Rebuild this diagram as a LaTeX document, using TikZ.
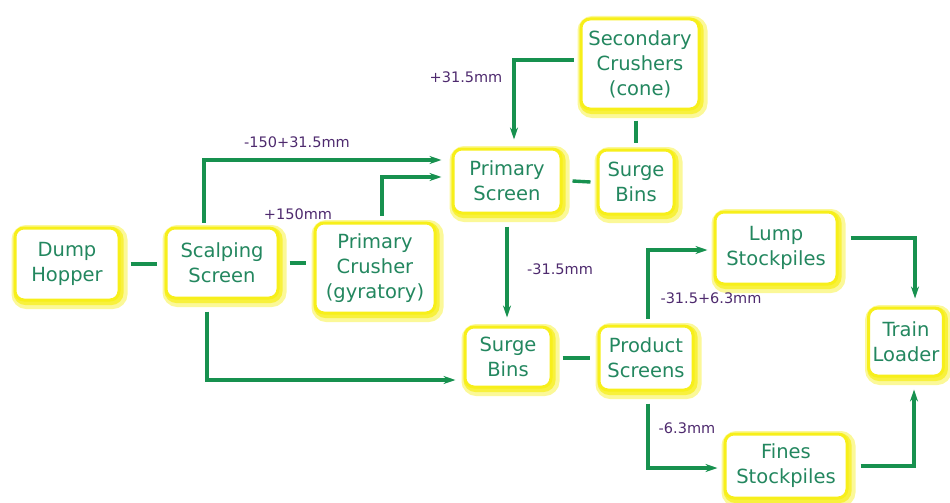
\documentclass[tikz,border=0pt]{standalone}
\usepackage{fontspec}
\setmainfont{DejaVu Sans}
\usetikzlibrary{arrows.meta}
\definecolor{txtgreen}{HTML}{23875F}
\definecolor{linegreen}{HTML}{17914F}
\definecolor{lblpurple}{HTML}{4E2A6E}
\definecolor{glow}{HTML}{F7EF1A}
\tikzset{
  box/.style={rounded corners=9pt, fill=white, draw=glow, line width=3pt,
    preaction={draw=glow!45, line width=12pt, rounded corners=9pt, transform canvas={shift={(2.5pt,-3pt)}}},
    preaction={draw=glow!85, line width=6pt, rounded corners=9pt, transform canvas={shift={(1.5pt,-2pt)}}},
    text=txtgreen, align=center, font=\fontsize{19.5}{25}\selectfont, inner sep=4pt},
  flow/.style={draw=linegreen, line width=3.4pt},
  arr/.style={flow, -{Stealth[length=12pt,width=8pt]}},
  lbl/.style={text=lblpurple, font=\fontsize{14.5}{16}\selectfont}
}
\begin{document}
\begin{tikzpicture}[x=1pt,y=-1pt]
\useasboundingbox (0,0) rectangle (950,503);
\node[box, minimum width=104pt, minimum height=72pt] (dump) at (67,264) {Dump\\Hopper};
\node[box, minimum width=112pt, minimum height=70pt] (scalp) at (222,263) {Scalping\\Screen};
\node[box, minimum width=120pt, minimum height=90pt] (pcrush) at (375,268) {Primary\\Crusher\\(gyratory)};
\node[box, minimum width=108pt, minimum height=64pt] (pscreen) at (507,181) {Primary\\Screen};
\node[box, minimum width=76pt, minimum height=64pt] (surge1) at (636,182) {Surge\\Bins};
\node[box, minimum width=118pt, minimum height=90pt] (second) at (640,64) {Secondary\\Crushers\\(cone)};
\node[box, minimum width=86pt, minimum height=60pt] (surge2) at (508,357) {Surge\\Bins};
\node[box, minimum width=94pt, minimum height=64pt] (prod) at (646,358) {Product\\Screens};
\node[box, minimum width=122pt, minimum height=72pt] (lump) at (776,248) {Lump\\Stockpiles};
\node[box, minimum width=74pt, minimum height=68pt] (train) at (906,342) {Train\\Loader};
\node[box, minimum width=122pt, minimum height=64pt] (fines) at (786,466) {Fines\\Stockpiles};

\coordinate (c1) at (204,160);
\coordinate (c2) at (382,177);
\coordinate (c3) at (514,60);
\coordinate (c4) at (207,380);
\coordinate (c5) at (648,250);
\coordinate (c6) at (648,468);
\coordinate (c7) at (915,238);
\coordinate (c8) at (914,466);

\draw[flow] ([xshift=10pt]dump.east) -- ([xshift=-8pt]scalp.west |- dump.east);
\draw[flow] ([xshift=10pt]scalp.east) -- ([xshift=-8pt]pcrush.west |- scalp.east);
\draw[arr] ([yshift=4pt]scalp.north -| c1) -- (c1) -- ([xshift=-10pt]pscreen.west |- c1);
\draw[arr] ([yshift=6pt]pcrush.north -| c2) -- (c2) -- ([xshift=-10pt]pscreen.west |- c2);
\draw[flow] ([xshift=10pt]pscreen.east) -- ([xshift=-6pt]surge1.west);
\draw[flow] ([yshift=-10pt]second.south -| surge1.north) -- ([yshift=6pt]surge1.north);
\draw[arr] ([xshift=-6pt]second.west |- c3) -- (c3) -- ([yshift=8pt]pscreen.north -| c3);
\draw[arr] ([yshift=-12pt]pscreen.south) -- ([yshift=8pt]surge2.north -| pscreen.south);
\draw[arr] ([yshift=-12pt]scalp.south -| c4) -- (c4) -- ([xshift=-8pt]surge2.west |- c4);
\draw[flow] ([xshift=10pt]surge2.east |- prod.east) -- ([xshift=-8pt]prod.west);
\draw[arr] ([yshift=6pt]prod.north -| c5) -- (c5) -- ([xshift=-6pt]lump.west |- c5);
\draw[arr] ([yshift=-12pt]prod.south -| c6) -- (c6) -- ([xshift=-6pt]fines.west |- c6);
\draw[arr] ([xshift=12pt]lump.east |- c7) -- (c7) -- ([yshift=8pt]train.north -| c7);
\draw[arr] ([xshift=12pt]fines.east |- c8) -- (c8) -- ([yshift=-12pt]train.south -| c8);

\node[lbl] (l1) at (297,142) {-150+31.5mm};
\node[lbl] (l2) at (298,214) {+150mm};
\node[lbl] (l3) at (466,77) {+31.5mm};
\node[lbl] (l4) at (560,269) {-31.5mm};
\node[lbl] (l5) at (711,298) {-31.5+6.3mm};
\node[lbl] (l6) at (687,428) {-6.3mm};
\end{tikzpicture}
\end{document}
